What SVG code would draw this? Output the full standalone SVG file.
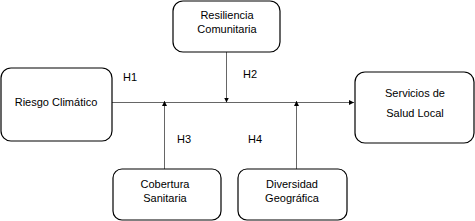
<svg xmlns="http://www.w3.org/2000/svg" width="475" height="221" viewBox="0 0 475 221">
<style>
.box{fill:#fff;stroke:#000;stroke-width:1.2}
.t{font-family:"Liberation Sans",Arial,sans-serif;font-size:11px;fill:#000;text-anchor:middle}
.l{font-family:"Liberation Sans",Arial,sans-serif;font-size:11px;fill:#000}
.c{stroke:#666;stroke-width:1;fill:none}
</style>
<defs>
<marker id="ah" viewBox="0 0 10 10" refX="10" refY="5" markerWidth="5" markerHeight="5" orient="auto" markerUnits="userSpaceOnUse">
<path d="M0,0 L10,5 L0,10 z" fill="#000"/>
</marker>
</defs>
<rect width="475" height="221" fill="#fff"/>
<g id="connectors">
<line class="c" x1="112" y1="102.5" x2="354" y2="102.5" marker-end="url(#ah)"/>
<line class="c" x1="226.5" y1="52" x2="226.5" y2="102.5" marker-end="url(#ah)"/>
<line class="c" x1="164.5" y1="169" x2="164.5" y2="101" marker-end="url(#ah)"/>
<line class="c" x1="296.5" y1="169" x2="296.5" y2="101" marker-end="url(#ah)"/>
<text class="l" x="123" y="81">H1</text>
<text class="l" x="243" y="78">H2</text>
<text class="l" x="177" y="143">H3</text>
<text class="l" x="248" y="143">H4</text>
</g>
<g id="riesgo">
<rect class="box" x="1" y="68" width="111" height="73" rx="10"/>
<text class="t" x="56" y="106">Riesgo Climático</text>
</g>
<g id="resiliencia">
<rect class="box" x="173" y="1" width="107" height="51" rx="10"/>
<text class="t" x="227" y="19">Resiliencia</text>
<text class="t" x="227" y="33">Comunitaria</text>
</g>
<g id="servicios">
<rect class="box" x="355" y="72" width="119" height="71" rx="10"/>
<text class="t" x="415" y="97">Servicios de</text>
<text class="t" x="415" y="117">Salud Local</text>
</g>
<g id="cobertura">
<rect class="box" x="113" y="169" width="108" height="51" rx="9"/>
<text class="t" x="165" y="188">Cobertura</text>
<text class="t" x="165" y="202">Sanitaria</text>
</g>
<g id="diversidad">
<rect class="box" x="238" y="169" width="109" height="51" rx="9"/>
<text class="t" x="292" y="188">Diversidad</text>
<text class="t" x="292" y="202">Geográfica</text>
</g>
</svg>
